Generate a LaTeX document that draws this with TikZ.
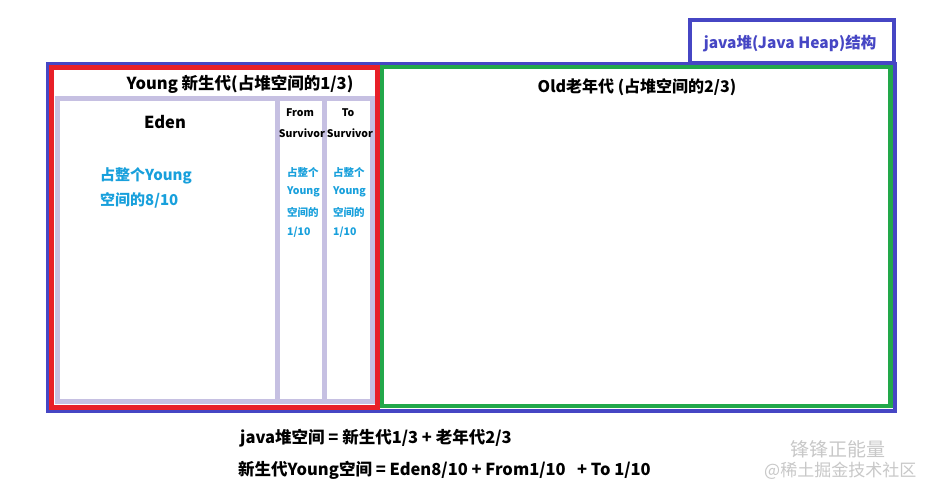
\documentclass[tikz,border=0pt]{standalone}
\usepackage{fontspec}
\setmainfont{Noto Sans CJK SC}
\definecolor{heapblue}{HTML}{4646C4}
\definecolor{youngred}{HTML}{E82028}
\definecolor{oldgreen}{HTML}{22A84A}
\definecolor{lav}{HTML}{C6C0E2}
\definecolor{cyantext}{HTML}{18A0DC}
\definecolor{wm}{HTML}{C8C8C8}
\tikzset{
  title/.style={font=\bfseries\fontsize{16.5}{19}\selectfont, text=black, inner sep=0pt},
  small/.style={font=\bfseries\fontsize{10.5}{12}\selectfont, text=black, inner sep=0pt},
  note/.style={font=\bfseries\fontsize{15}{17}\selectfont, text=cyantext, inner sep=0pt, anchor=west},
  snote/.style={font=\bfseries\fontsize{10.5}{12}\selectfont, text=cyantext, inner sep=0pt, anchor=west},
  formula/.style={font=\bfseries\fontsize{16.5}{19}\selectfont, text=black, inner sep=0pt, anchor=west},
  wmark/.style={text=wm, inner sep=0pt, anchor=west},
}
\begin{document}
\begin{tikzpicture}[x=1pt,y=-1pt]
\useasboundingbox (0,0) rectangle (938,494);
\fill[white] (0,0) rectangle (938,494);
% heap label box
\draw[heapblue, line width=4pt] (690,20) rectangle (894,63.5);
\node[font=\bfseries\fontsize{15.5}{18}\selectfont, text=heapblue, inner sep=0pt] (heaplbl) at (790,44) {java堆(Java Heap)结构};
% outer heap
\draw[heapblue, line width=3.5pt] (47.5,63.5) rectangle (895,411);
% young
\draw[youngred, line width=5pt] (51.5,67.5) rectangle (377.5,407.5);
% old
\draw[oldgreen, line width=4.5pt] (382,67) rectangle (890.5,406);
% lavender partitions
\draw[lav, line width=5pt] (57,98.5) rectangle (372.5,401.5);
\draw[lav, line width=5pt] (277.5,98.5) -- (277.5,401.5);
\draw[lav, line width=5pt] (324.5,98.5) -- (324.5,401.5);
% titles
\node[title] (young) at (240,84) {Young 新生代(占堆空间的1/3)};
\node[title, font=\bfseries\fontsize{16}{19}\selectfont] (old) at (637,87) {Old老年代 (占堆空间的2/3)};
\node[title] (eden) at (165,122) {Eden};
\node[small] (from1) at (300,113) {From};
\node[small] (from2) at (302,133) {Survivor};
\node[small] (to1) at (348,113) {To};
\node[small] (to2) at (350,133) {Survivor};
% notes
\node[note] (en1) at (100,176) {占整个Young};
\node[note] (en2) at (100,200) {空间的8/10};
\node[snote] (fn1) at (287,172) {占整个};
\node[snote] (fn2) at (287,192) {Young};
\node[snote] (fn3) at (287,212) {空间的};
\node[snote] (fn4) at (287,232) {1/10};
\node[snote] (tn1) at (333,172) {占整个};
\node[snote] (tn2) at (333,192) {Young};
\node[snote] (tn3) at (333,212) {空间的};
\node[snote] (tn4) at (333,232) {1/10};
% formulas
\node[formula] (f1) at (240,438) {java堆空间 = 新生代1/3 + 老年代2/3};
\node[formula] (f2) at (238,470) {新生代Young空间 = Eden8/10 + From1/10 \ \ + To 1/10};
% watermark
\node[wmark, font=\fontsize{19}{21}\selectfont] (wm1) at (790,449) {锋锋正能量};
\node[wmark, font=\fontsize{17}{19}\selectfont] (wm2) at (764,471) {@稀土掘金技术社区};
\end{tikzpicture}
\end{document}
